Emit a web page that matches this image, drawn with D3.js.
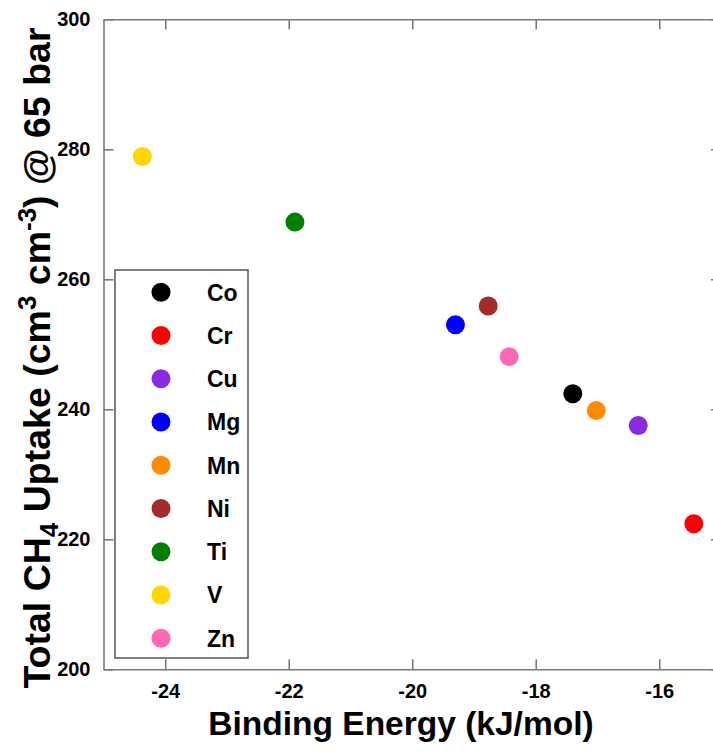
<!doctype html>
<html>
<head>
<meta charset="utf-8">
<script src="https://cdn.jsdelivr.net/npm/d3@7"></script>
<style>
  body { margin: 0; background: #fff; }
  text { font-family: "Liberation Sans", Arial, sans-serif; font-weight: bold; fill: #000; }
</style>
</head>
<body>
<svg id="chart" width="713" height="754"></svg>
<script>
// data
var metals = ["Co", "Cr", "Cu", "Mg", "Mn", "Ni", "Ti", "V", "Zn"];
var bindingEnergy = [-17.40, -15.44, -16.34, -19.30, -17.02, -18.77, -21.90, -24.37, -18.43];
var uptake = [242.4, 222.4, 237.5, 253.0, 239.8, 255.9, 268.8, 278.9, 248.1];
var colors = ["#000000", "#ff0000", "#8a2be2", "#0000ff", "#ff8c00", "#a52a2a", "#008000", "#ffd700", "#ff69b4"];
var xTicks = [-24, -22, -20, -18, -16];
var yTicks = [200, 220, 240, 260, 280, 300];

var svg = d3.select("#chart");

var x = d3.scaleLinear().domain([-25, -15]).range([103.5, 721]);
var y = d3.scaleLinear().domain([200, 300]).range([669.3, 19.3]);

var axisColor = "#7a7a7a";
var plain = function(d) { return String(d); };   // hyphen minus like the original

// bottom and left axes with labels, ticks pointing inward
svg.append("g")
   .attr("transform", "translate(0," + y(200) + ")")
   .call(d3.axisBottom(x).tickValues(xTicks).tickFormat(plain).tickSizeInner(-10).tickSizeOuter(0).tickPadding(15))
   .call(styleAxis);

svg.append("g")
   .attr("transform", "translate(" + x(-25) + ",0)")
   .call(d3.axisLeft(y).tickValues(yTicks).tickFormat(plain).tickSizeInner(-10).tickSizeOuter(0).tickPadding(13))
   .call(styleAxis);

// top and right axes, ticks only
svg.append("g")
   .attr("transform", "translate(0," + y(300) + ")")
   .call(d3.axisTop(x).tickValues(xTicks).tickSizeInner(-10).tickSizeOuter(0).tickFormat(""))
   .call(styleAxis);

svg.append("g")
   .attr("transform", "translate(" + x(-15) + ",0)")
   .call(d3.axisRight(y).tickValues(yTicks).tickSizeInner(-10).tickSizeOuter(0).tickFormat(""))
   .call(styleAxis);

function styleAxis(g) {
    g.attr("font-family", null).attr("font-size", null);
    g.select(".domain").attr("stroke", axisColor).attr("stroke-width", 1.6);
    g.selectAll(".tick line").attr("stroke", axisColor).attr("stroke-width", 1.6);
    g.selectAll(".tick text")
     .style("font-size", "20px")
     .style("font-family", "'Liberation Sans', Arial, sans-serif")
     .style("font-weight", "bold")
     .attr("fill", "#000");
}

// points
svg.append("g").selectAll("circle")
   .data(metals)
   .enter().append("circle")
   .attr("cx", function(d, i) { return x(bindingEnergy[i]); })
   .attr("cy", function(d, i) { return y(uptake[i]); })
   .attr("r", 9.5)
   .attr("fill", function(d, i) { return colors[i]; });

// legend
var legend = svg.append("g");
legend.append("rect")
      .attr("x", 115).attr("y", 270)
      .attr("width", 133).attr("height", 388)
      .attr("fill", "#fff")
      .attr("stroke", "#555")
      .attr("stroke-width", 1.5);

var rows = legend.selectAll(".row")
      .data(metals)
      .enter().append("g")
      .attr("class", "row")
      .attr("transform", function(d, i) { return "translate(0," + (292.3 + i * 43.25) + ")"; });

rows.append("circle")
    .attr("cx", 161).attr("cy", 0).attr("r", 9.5)
    .attr("fill", function(d, i) { return colors[i]; });

rows.append("text")
    .attr("x", 207).attr("y", 0).attr("dy", "0.36em")
    .attr("font-size", "23px")
    .text(function(d) { return d; });

// axis titles
svg.append("text")
   .attr("x", 401).attr("y", 735)
   .attr("text-anchor", "middle")
   .attr("font-size", "33.5px")
   .text("Binding Energy (kJ/mol)");

var yTitle = svg.append("text")
   .attr("transform", "translate(50,358) rotate(-90)")
   .attr("text-anchor", "middle")
   .attr("font-size", "37.5px");
yTitle.append("tspan").text("Total CH");
yTitle.append("tspan").attr("font-size", "26px").attr("dy", 8).text("4");
yTitle.append("tspan").attr("dy", -8).text(" Uptake (cm");
yTitle.append("tspan").attr("font-size", "26px").attr("dy", -14).text("3");
yTitle.append("tspan").attr("dy", 14).text(" cm");
yTitle.append("tspan").attr("font-size", "26px").attr("dy", -14).text("-3");
yTitle.append("tspan").attr("dy", 14).text(") @ 65 bar");
</script>
</body>
</html>
